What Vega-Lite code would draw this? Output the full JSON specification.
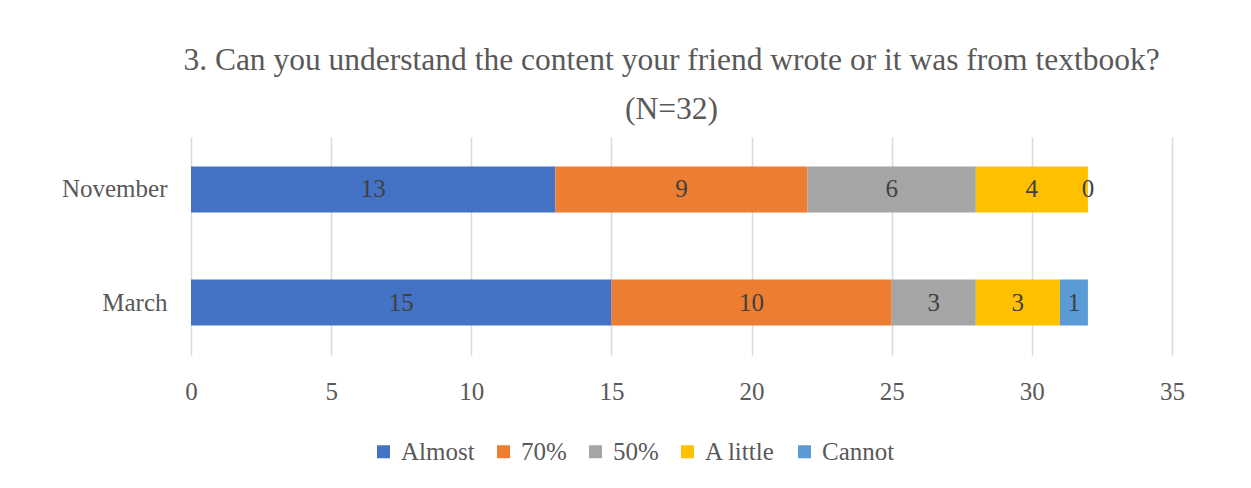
{
  "$schema": "https://vega.github.io/schema/vega-lite/v6.json",
  "width": 981,
  "height": 218,
  "autosize": {"type": "none"},
  "padding": {"left": 191, "top": 137, "right": 79, "bottom": 133},
  "background": "white",
  "config": {"view": {"stroke": null}},
  "title": {
    "text": ["3. Can you understand the content your friend wrote or it was from textbook?", "(N=32)"],
    "font": "Liberation Serif",
    "fontSize": 31.5,
    "fontWeight": "normal",
    "color": "#595959",
    "lineHeight": 49,
    "offset": 12,
    "anchor": "middle",
    "dx": -10
  },
  "data": {
    "values": [
      {"period": "November", "category": "Almost", "value": 13, "order": 1},
      {"period": "November", "category": "70%", "value": 9, "order": 2},
      {"period": "November", "category": "50%", "value": 6, "order": 3},
      {"period": "November", "category": "A little", "value": 4, "order": 4},
      {"period": "November", "category": "Cannot", "value": 0, "order": 5},
      {"period": "March", "category": "Almost", "value": 15, "order": 1},
      {"period": "March", "category": "70%", "value": 10, "order": 2},
      {"period": "March", "category": "50%", "value": 3, "order": 3},
      {"period": "March", "category": "A little", "value": 3, "order": 4},
      {"period": "March", "category": "Cannot", "value": 1, "order": 5}
    ]
  },
  "transform": [
    {"stack": "value", "groupby": ["period"], "sort": [{"field": "order", "order": "ascending"}], "as": ["x0", "x1"]},
    {"calculate": "(datum.x0 + datum.x1) / 2", "as": "mid"}
  ],
  "encoding": {
    "y": {
      "field": "period",
      "type": "nominal",
      "sort": ["November", "March"],
      "title": null,
      "scale": {"paddingInner": 0.593, "paddingOuter": 0.26},
      "axis": {
        "domain": false,
        "ticks": false,
        "labelFont": "Liberation Serif",
        "labelFontSize": 25,
        "labelColor": "#595959",
        "labelPadding": 24,
        "grid": false
      }
    }
  },
  "layer": [
    {
      "mark": {"type": "bar"},
      "encoding": {
        "x": {
          "field": "x0",
          "type": "quantitative",
          "scale": {"domain": [0, 35]},
          "title": null,
          "axis": {
            "values": [0, 5, 10, 15, 20, 25, 30, 35],
            "domain": false,
            "ticks": false,
            "grid": true,
            "gridColor": "#D9D9D9",
            "gridWidth": 1.5,
            "labelFlush": false,
            "labelFont": "Liberation Serif",
            "labelFontSize": 25,
            "labelColor": "#595959",
            "labelPadding": 24
          }
        },
        "x2": {"field": "x1"},
        "color": {
          "field": "category",
          "type": "nominal",
          "scale": {
            "domain": ["Almost", "70%", "50%", "A little", "Cannot"],
            "range": ["#4472C4", "#ED7D31", "#A5A5A5", "#FFC000", "#5B9BD5"]
          },
          "legend": {
            "title": null,
            "orient": "none",
            "direction": "horizontal",
            "columns": 5,
            "legendX": 180,
            "legendY": 302,
            "symbolType": "square",
            "symbolSize": 169,
            "symbolStrokeWidth": 0,
            "symbolOpacity": 1,
            "labelFont": "Liberation Serif",
            "labelFontSize": 25,
            "labelColor": "#595959",
            "labelOffset": 5,
            "columnPadding": 16
          }
        }
      }
    },
    {
      "mark": {"type": "text", "font": "Liberation Serif", "fontSize": 25, "color": "#404040", "baseline": "middle", "align": "center"},
      "encoding": {
        "x": {"field": "mid", "type": "quantitative"},
        "text": {"field": "value", "type": "quantitative"}
      }
    }
  ]
}
